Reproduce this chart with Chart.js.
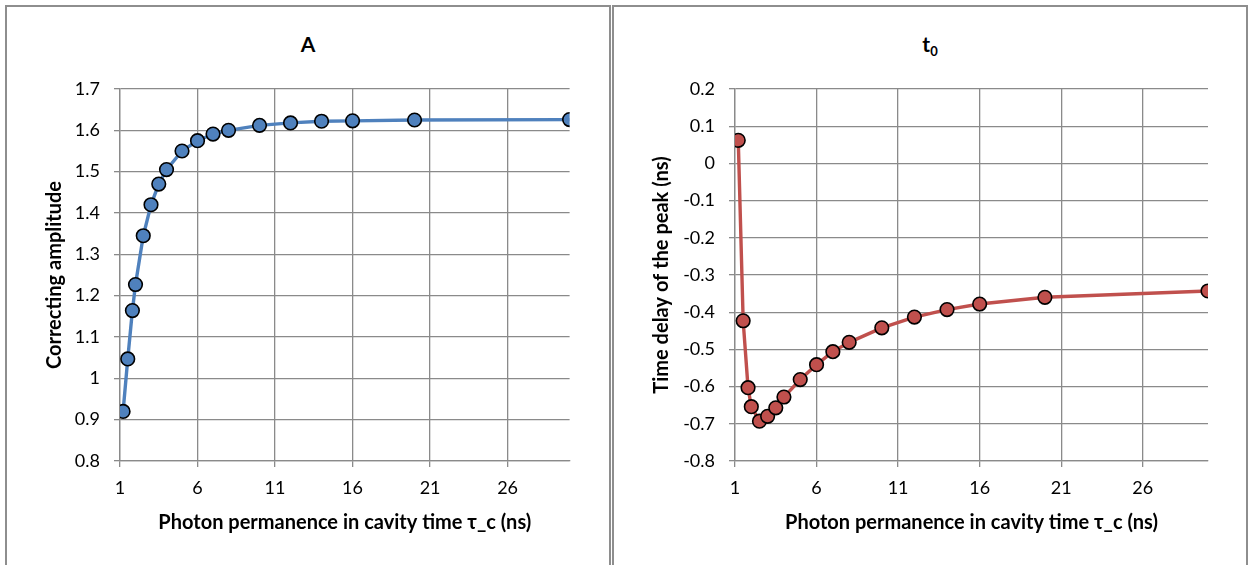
<!DOCTYPE html>
<html>
<head>
<meta charset="utf-8">
<script src="https://cdn.jsdelivr.net/npm/chart.js@4.4.1/dist/chart.umd.min.js"></script>
<style>
  body { margin: 0; background: #fff; width: 1249px; height: 565px; overflow: hidden; position: relative; font-family: Lato, sans-serif; }
  .panel { position: absolute; top: 5px; height: 620px; box-sizing: border-box; border: 2px solid #8e8e8e; }
  .ttl { position: absolute; top: 24px; left: 0; right: 0; text-align: center; font: bold 21px Lato, sans-serif; color: #000; }
  .ttl sub { font-size: 13px; vertical-align: -4px; }
  canvas { position: absolute; top: 0; left: 0; }
</style>
</head>
<body>
<div class="panel" style="left:5px;width:606px">
  <div class="ttl">A</div>
  <canvas id="chartA" width="602" height="558"></canvas>
</div>
<div class="panel" style="left:612px;width:636px">
  <div class="ttl">t<sub>0</sub></div>
  <canvas id="chartT0" width="632" height="558"></canvas>
</div>
<script>
// photon permanence in cavity time tau_c (ns)
const tauC = [1.2, 1.5, 1.8, 2, 2.5, 3, 3.5, 4, 5, 6, 7, 8, 10, 12, 14, 16, 20, 30];
// correcting amplitude A
const amplitude = [0.92, 1.047, 1.164, 1.227, 1.345, 1.42, 1.47, 1.505, 1.55, 1.575, 1.591, 1.6, 1.612, 1.618, 1.622, 1.623, 1.625, 1.626];
// time delay of the peak t0 (ns)
const delay = [0.062, -0.423, -0.603, -0.654, -0.693, -0.68, -0.657, -0.628, -0.581, -0.541, -0.506, -0.481, -0.442, -0.413, -0.393, -0.378, -0.36, -0.343];

const xTicks = [1, 6, 11, 16, 21, 26];
const yTicksA = [0.8, 0.9, 1, 1.1, 1.2, 1.3, 1.4, 1.5, 1.6, 1.7];
const yTicksT0 = [-0.8, -0.7, -0.6, -0.5, -0.4, -0.3, -0.2, -0.1, 0, 0.1, 0.2];

const gridGray = "#8a8a8a";
const tickFont = { family: "Lato", size: 18 };
const titleFont = { family: "Lato", size: 20, weight: "bold" };

function makeChart(id, ys, yTicks, color, yTitle, yWidth, padRight) {
  const ctx = document.getElementById(id).getContext("2d");
  return new Chart(ctx, {
    type: "scatter",
    data: {
      datasets: [{
        data: tauC.map((x, i) => ({ x: x, y: ys[i] })),
        showLine: true,
        borderColor: color,
        borderWidth: 3.4,
        backgroundColor: color,
        pointRadius: 6.8,
        pointBorderColor: "#000",
        pointBorderWidth: 1.6,
      }],
    },
    options: {
      responsive: false,
      animation: false,
      layout: { padding: { top: 82, right: padRight, bottom: 30, left: 0 } },
      plugins: { legend: { display: false }, tooltip: { enabled: false } },
      scales: {
        x: {
          type: "linear",
          min: 1,
          max: 30,
          afterBuildTicks: (s) => { s.ticks = xTicks.map(v => ({ value: v })); },
          afterFit: (s) => { s.height = 74; },
          grid: { color: gridGray, lineWidth: 1.3, tickLength: 6, tickColor: gridGray },
          border: { color: gridGray, width: 1.3 },
          ticks: { color: "#000", font: tickFont, padding: 10, maxRotation: 0 },
          title: { display: true, text: "Photon permanence in cavity time τ_c (ns)", color: "#000", font: titleFont, padding: { top: 4, bottom: 0 } },
        },
        y: {
          min: yTicks[0],
          max: yTicks[yTicks.length - 1],
          afterBuildTicks: (s) => { s.ticks = yTicks.map(v => ({ value: v })); },
          afterFit: (s) => { s.width = yWidth; },
          grid: { color: gridGray, lineWidth: 1.3, tickLength: 6, tickColor: gridGray },
          border: { color: gridGray, width: 1.3 },
          ticks: { color: "#000", font: tickFont, padding: 14, callback: (v) => String(+v.toFixed(1)) },
          title: { display: true, text: yTitle, color: "#000", font: titleFont, padding: { top: 36, bottom: 0 } },
        },
      },
    },
  });
}

makeChart("chartA", amplitude, yTicksA, "#4F81BD", "Correcting amplitude", 113, 39.4);
makeChart("chartT0", delay, yTicksT0, "#C0504D", "Time delay of the peak (ns)", 121, 38);
</script>
</body>
</html>
